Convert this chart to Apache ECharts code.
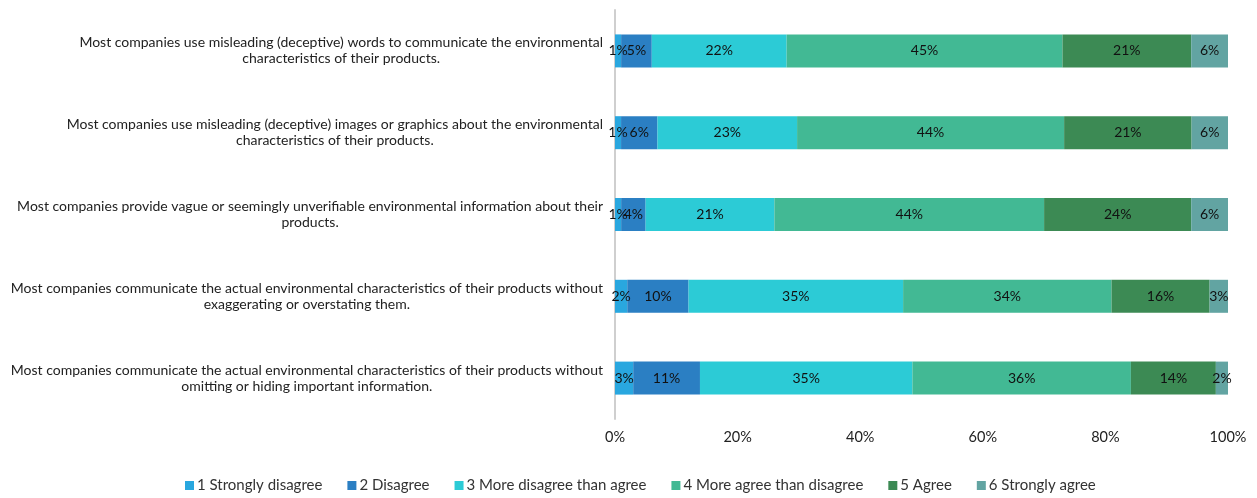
<!DOCTYPE html>
<html>
<head>
<meta charset="utf-8">
<script src="https://cdn.jsdelivr.net/npm/echarts@6/dist/echarts.min.js"></script>
<style>
  html, body { margin: 0; padding: 0; background: #fff; }
  #chart { width: 1257px; height: 498px; }
</style>
</head>
<body>
<div id="chart"></div>
<script>
// Statements (two display lines each)
const statements = [
  'Most companies use misleading (deceptive) words to communicate the environmental\ncharacteristics of their products.',
  'Most companies use misleading (deceptive) images or graphics about the environmental\ncharacteristics of their products.',
  'Most companies provide vague or seemingly unverifiable environmental information about their\nproducts.',
  'Most companies communicate the actual environmental characteristics of their products without\nexaggerating or overstating them.',
  'Most companies communicate the actual environmental characteristics of their products without\nomitting or hiding important information.'
];

// Response scale
const responses = [
  '1 Strongly disagree',
  '2 Disagree',
  '3 More disagree than agree',
  '4 More agree than disagree',
  '5 Agree',
  '6 Strongly agree'
];

// Share of respondents (%) per response, one entry per statement
const stronglyDisagree = [1, 1, 1, 2, 3];
const disagree         = [5, 6, 4, 10, 11];
const moreDisagree     = [22, 23, 21, 35, 35];
const moreAgree        = [45, 44, 44, 34, 36];
const agree            = [21, 21, 24, 16, 14];
const stronglyAgree    = [6, 6, 6, 3, 2];

const valueTicks = [0, 20, 40, 60, 80, 100];

const seriesValues = [stronglyDisagree, disagree, moreDisagree, moreAgree, agree, stronglyAgree];
const colors = ['#29a7df', '#2b7fc3', '#2ccbd6', '#42b994', '#3c8a54', '#62a4a2'];

// 100% stacked: each segment is its share of the row total
const rowTotals = statements.map((_, i) => seriesValues.reduce((s, arr) => s + arr[i], 0));

const font = 'Lato, "Liberation Sans", sans-serif';

const chart = echarts.init(document.getElementById('chart'));
chart.setOption({
  animation: false,
  color: colors,
  textStyle: { fontFamily: font },
  grid: { left: 615, right: 29, top: 10, bottom: 79, containLabel: false },
  xAxis: {
    type: 'value',
    min: valueTicks[0],
    max: valueTicks[valueTicks.length - 1],
    interval: 20,
    splitLine: { show: false },
    axisLine: { show: false },
    axisTick: { show: false },
    axisLabel: {
      margin: 11,
      fontSize: 14.5,
      color: '#222',
      fontFamily: font,
      formatter: v => v + '%'
    }
  },
  yAxis: {
    type: 'category',
    inverse: true,
    data: statements,
    axisTick: { show: false },
    axisLine: { show: true, lineStyle: { color: '#cfcfcf', width: 2 } },
    axisLabel: {
      margin: 12,
      align: 'right',
      color: '#222',
      fontSize: 14,
      lineHeight: 16,
      fontFamily: font,
      formatter: v => v.split('\n').map(l => '{c|' + l + '}').join('\n'),
      rich: { c: { align: 'center', fontSize: 14, lineHeight: 16, fontFamily: font, color: '#222' } }
    }
  },
  legend: {
    bottom: 0,
    left: 180,
    itemWidth: 9,
    itemHeight: 9,
    itemGap: 25,
    icon: 'rect',
    textStyle: { fontSize: 15, color: '#333', fontFamily: font, padding: [0, 0, 0, -2] },
    data: responses
  },
  series: responses.map((name, k) => ({
    name: name,
    type: 'bar',
    stack: 'total',
    barWidth: 33,
    data: seriesValues[k].map((v, i) => ({ value: v / rowTotals[i] * 100, raw: v })),
    label: {
      show: true,
      position: 'inside',
      color: '#111',
      fontSize: 14,
      fontFamily: font,
      formatter: p => p.data.raw + '%'
    },
    itemStyle: { color: colors[k] }
  }))
});
</script>
</body>
</html>
